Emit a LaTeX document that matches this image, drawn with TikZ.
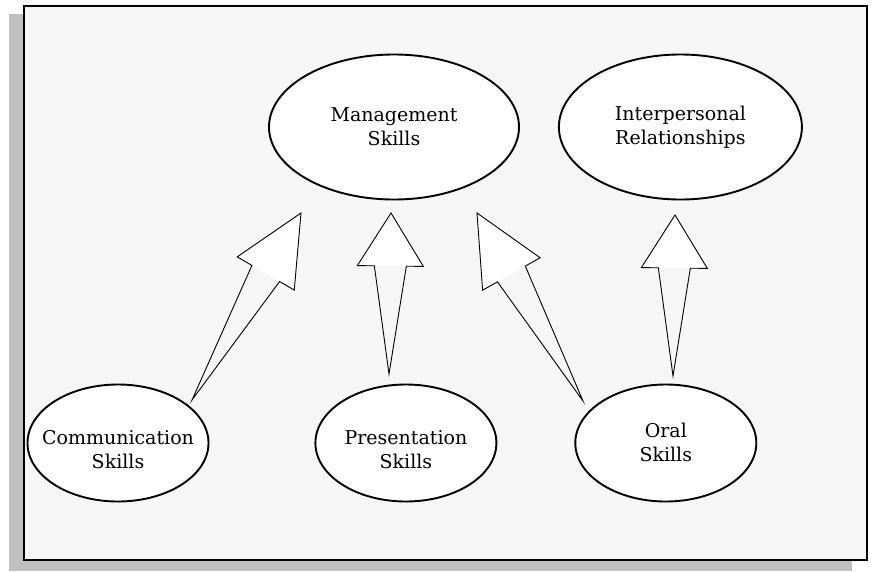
\documentclass[tikz,border=0pt]{standalone}
\usepackage{fontspec}
\newfontfamily\skillfont{DejaVu Serif}
\usepackage{tikz}
\usetikzlibrary{shapes.geometric, positioning, calc}
\definecolor{panel}{RGB}{246,246,246}
\definecolor{shadow}{RGB}{192,192,192}

% hollow block arrow: [head length]{tail}{tip}
\newcommand{\fatarrow}[3][53pt]{%
  \coordinate (hb) at ($(#3)!#1!(#2)$);
  \coordinate (hl) at ($(hb)!33pt!90:(#3)$);
  \coordinate (hr) at ($(hb)!33pt!-90:(#3)$);
  \coordinate (sl) at ($(hb)!16pt!90:(#3)$);
  \coordinate (sr) at ($(hb)!16pt!-90:(#3)$);
  \fill[white] (hl) -- (#3) -- (hr) -- cycle;
  \draw[arrowline] (#2) -- (sl) -- (hl) -- (#3) -- (hr) -- (sr) -- cycle;
}

\begin{document}
\begin{tikzpicture}[
    x=1pt, y=-1pt,
    skill/.style 2 args={ellipse, draw, line width=1.9pt, fill=white, inner sep=0pt,
      label={[align=center, yshift=#2, font=\skillfont\fontsize{19}{24}\selectfont]center:#1}},
    top/.style 2 args={skill={#1}{#2}, minimum width=250pt, minimum height=145pt},
    base/.style 2 args={skill={#1}{#2}, minimum width=181pt, minimum height=117pt},
    arrowline/.style={line width=0.9pt, line join=miter}
]
\useasboundingbox (0,0) rectangle (873,571);

% Frame with drop shadow
\fill[shadow] (9,14) rectangle (852,571);
\draw[fill=panel, line width=1.9pt] (24,6) rectangle (867,560);

% Upper row
\node[top={Management\\Skills}{0pt}] (mgmt) at (394,127) {};
\node[top={Interpersonal\\Relationships}{0pt}, minimum width=243pt, right=38pt of mgmt] (interp) {};

% Lower row
\node[base={Communication\\Skills}{-7pt}] (comm) at (118,443) {};
\node[base={Presentation\\Skills}{-7pt}, right=105pt of comm] (pres) {};
\node[base={Oral\\Skills}{1pt}, right=77pt of pres] (oral) {};

% Arrow ends
\coordinate (comm-out) at (192,400);
\coordinate (mgmt-in1) at (301,213);
\coordinate (pres-out) at (389,374);
\coordinate (mgmt-in2) at (391,213);
\coordinate (oral-out1) at (583,401);
\coordinate (mgmt-in3) at (477,213);
\coordinate (oral-out2) at (673,376);
\coordinate (interp-in) at (675,215);

% Arrows
\fatarrow[70pt]{comm-out}{mgmt-in1}
\fatarrow{pres-out}{mgmt-in2}
\fatarrow[70pt]{oral-out1}{mgmt-in3}
\fatarrow{oral-out2}{interp-in}

\end{tikzpicture}
\end{document}
